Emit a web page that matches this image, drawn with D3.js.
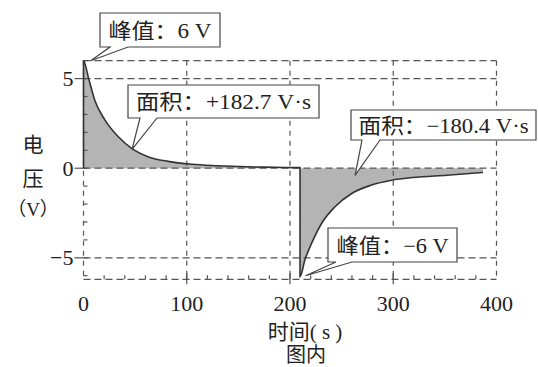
<!DOCTYPE html>
<html>
<head>
<meta charset="utf-8">
<script src="https://cdn.jsdelivr.net/npm/d3@7"></script>
<style>
  body { margin: 0; background: #fff; }
  text { font-family: "Liberation Serif", "Noto Sans CJK SC", serif; fill: #222; }
</style>
</head>
<body>
<svg id="chart" width="538" height="367"></svg>
<script>
// pulse (time in s, voltage in V)
const timeS = [0, 0, 5, 11, 21, 34, 47, 63, 82, 105, 130, 158, 185, 209.7,
               209.7, 214.5, 221, 230.7, 243.6, 259.8, 279, 298.5, 319, 352, 387];
const voltV = [0, 6, 5.0, 3.78, 2.67, 1.74, 1.09, 0.63, 0.38, 0.22, 0.14, 0.08, 0.05, 0.03,
               -6.05, -5.1, -4.18, -3.07, -2.15, -1.41, -0.94, -0.67, -0.52, -0.39, -0.24];

const xTicks = [0, 100, 200, 300, 400];
const yTicks = [5, 0, -5];
const gridY = [6, 5, 0, -5, -6.2];

const noteText = ["峰值：6 V", "面积：+182.7 V·s", "面积：−180.4 V·s", "峰值：−6 V"];
const noteTipT = [7, 47, 263, 215];
const noteTipV = [6, 1.05, -0.4, -6.0];

const svg = d3.select("#chart");

const x = d3.scaleLinear().domain([0, 400]).range([83.5, 496.5]);
const y = d3.scaleLinear().domain([-6.2, 6]).range([279.3, 60.7]);

const pts = timeS.map((t, i) => ({t: t, v: voltV[i]}));

// shaded area under the curve
const area = d3.area()
  .x(d => x(d.t))
  .y0(y(0))
  .y1(d => y(d.v))
  .curve(d3.curveMonotoneX);

svg.append("path")
  .datum(pts)
  .attr("d", area)
  .attr("fill", "#b4b4b4");

// dashed grid / frame
const grid = svg.append("g")
  .attr("stroke", "#555")
  .attr("stroke-width", 1.2)
  .attr("fill", "none");

grid.selectAll("line.h")
  .data(gridY)
  .join("line")
  .attr("class", "h")
  .attr("x1", x(0)).attr("x2", x(400))
  .attr("y1", d => y(d)).attr("y2", d => y(d))
  .attr("stroke-dasharray", "7,4");

grid.selectAll("line.v")
  .data(xTicks)
  .join("line")
  .attr("class", "v")
  .attr("x1", d => x(d)).attr("x2", d => x(d))
  .attr("y1", y(6)).attr("y2", y(-6.2))
  .attr("stroke-dasharray", "5,5");

// minor ticks
grid.selectAll("line.my")
  .data(d3.range(-6, 7, 1))
  .join("line")
  .attr("class", "my")
  .attr("x1", x(0)).attr("x2", x(0) + 4)
  .attr("y1", d => y(d)).attr("y2", d => y(d));

grid.selectAll("line.mx")
  .data(d3.range(20, 400, 20))
  .join("line")
  .attr("class", "mx")
  .attr("x1", d => x(d)).attr("x2", d => x(d))
  .attr("y1", y(-6.2) - 4).attr("y2", y(-6.2));

// major ticks
grid.selectAll("line.ty")
  .data(yTicks)
  .join("line")
  .attr("class", "ty")
  .attr("x1", x(0) - 9).attr("x2", x(0))
  .attr("y1", d => y(d)).attr("y2", d => y(d));

grid.selectAll("line.tx")
  .data(xTicks.slice(1, 4))
  .join("line")
  .attr("class", "tx")
  .attr("x1", d => x(d)).attr("x2", d => x(d))
  .attr("y1", y(-6.2) - 6).attr("y2", y(-6.2) + 5);

// the curve itself
const line = d3.line()
  .x(d => x(d.t))
  .y(d => y(d.v))
  .curve(d3.curveMonotoneX);

svg.append("path")
  .datum(pts)
  .attr("d", line)
  .attr("fill", "none")
  .attr("stroke", "#333")
  .attr("stroke-width", 1.6);

// tick labels
svg.selectAll("text.yl")
  .data(yTicks)
  .join("text")
  .attr("class", "yl")
  .attr("x", x(0) - 10)
  .attr("y", d => y(d))
  .attr("dy", "0.35em")
  .attr("text-anchor", "end")
  .attr("font-size", 22)
  .text(d => d < 0 ? "−" + Math.abs(d) : d);

svg.selectAll("text.xl")
  .data(xTicks)
  .join("text")
  .attr("class", "xl")
  .attr("x", d => x(d))
  .attr("y", 311)
  .attr("text-anchor", "middle")
  .attr("font-size", 22)
  .text(d => d);

// axis titles
svg.append("text")
  .attr("x", 305).attr("y", 339)
  .attr("text-anchor", "middle")
  .attr("font-size", 21)
  .text("时间( s )");

svg.append("text")
  .attr("x", 306).attr("y", 362)
  .attr("text-anchor", "middle")
  .attr("font-size", 20)
  .text("图内");

const yTitle = ["电", "压", "（V）"];
const yTitleBase = [152, 186, 216];
svg.selectAll("text.yt")
  .data(yTitle)
  .join("text")
  .attr("class", "yt")
  .attr("x", 33)
  .attr("y", (d, i) => yTitleBase[i])
  .attr("text-anchor", "middle")
  .attr("font-size", (d, i) => i == 2 ? 19 : 21)
  .text(d => d);

// callout boxes
const boxes = [
  {x: 100, y: 13, w: 120, h: 34, a: 110, b: 128, tw: 103},
  {x: 128, y: 85, w: 191, h: 33, a: 140, b: 157, tw: 175},
  {x: 351, y: 110, w: 185, h: 30, a: 362, b: 380, tw: 170},
  {x: 328, y: 228, w: 129, h: 34, a: 336, b: 352, tw: 112}
];

boxes.forEach((bx, i) => {
  const tx = x(noteTipT[i]), ty = y(noteTipV[i]);
  const bot = bx.y + bx.h;
  const p = d3.path();
  p.moveTo(bx.x, bx.y);
  p.lineTo(bx.x + bx.w, bx.y);
  p.lineTo(bx.x + bx.w, bot);
  p.lineTo(bx.b, bot);
  p.lineTo(tx, ty);
  p.lineTo(bx.a, bot);
  p.lineTo(bx.x, bot);
  p.closePath();
  svg.append("path")
    .attr("d", p.toString())
    .attr("fill", "#fff")
    .attr("stroke", "#444")
    .attr("stroke-width", 1.2);
  svg.append("text")
    .attr("x", bx.x + bx.w / 2)
    .attr("y", bx.y + bx.h / 2)
    .attr("dy", "0.36em")
    .attr("text-anchor", "middle")
    .attr("font-size", 21)
    .attr("textLength", bx.tw)
    .attr("lengthAdjust", "spacingAndGlyphs")
    .text(noteText[i]);
});
</script>
</body>
</html>
